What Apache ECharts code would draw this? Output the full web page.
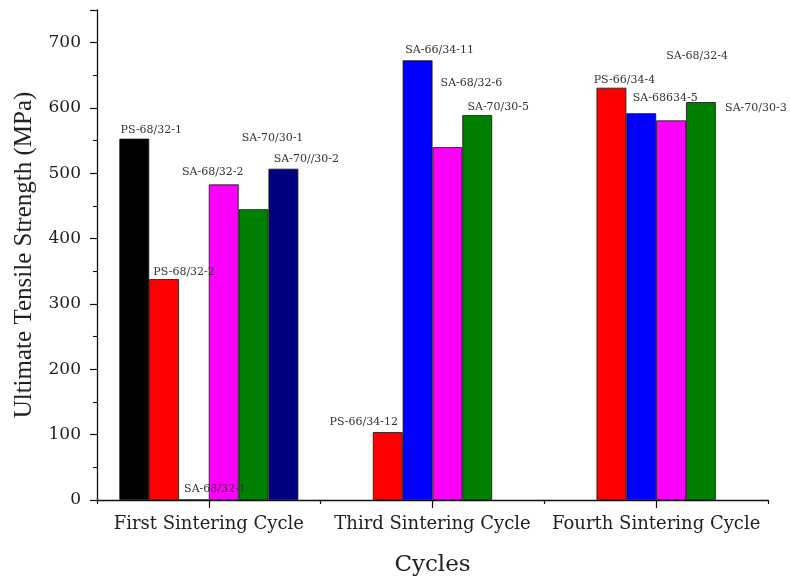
<!DOCTYPE html>
<html>
<head>
<meta charset="utf-8">
<script src="https://cdn.jsdelivr.net/npm/echarts@6/dist/echarts.min.js"></script>
<style>
html,body{margin:0;padding:0;background:#fff;}
#chart{width:790px;height:582px;}
</style>
</head>
<body>
<div id="chart"></div>
<script>
// ---- data ----
const categories = ['First Sintering Cycle', 'Third Sintering Cycle', 'Fourth Sintering Cycle'];
const yTicks = [0, 100, 200, 300, 400, 500, 600, 700];
// one series per bar slot inside a group ('-' = no bar)
const slot0Values = [553, '-', '-'];
const slot1Values = [338, 104, 631];
const slot2Values = [0, 673, 592];
const slot3Values = [483, 540, 581];
const slot4Values = [445, 589, 609];
const slot5Values = [507, '-', '-'];
const slot0Names = ['PS-68/32-1', '', ''];
const slot1Names = ['PS-68/32-2', 'PS-66/34-12', 'PS-66/34-4'];
const slot2Names = ['SA-68/32-1', 'SA-66/34-11', 'SA-68634-5'];
const slot3Names = ['SA-68/32-2', 'SA-68/32-6', 'SA-68/32-4'];
const slot4Names = ['SA-70/30-1', 'SA-70/30-5', 'SA-70/30-3'];
const slot5Names = ['SA-70//30-2', '', ''];

// ---- styles ----
const slotColors = ['#000000', '#ff0000', '#0000ff', '#ff00ff', '#008000', '#000080'];
const labelShift = [
  [[17, 2], [0, 0], [0, 0]],
  [[20, 3], [-24, 1], [13, 3]],
  [[21, 0], [22, 0], [24, -5]],
  [[-11, -2], [24, -54], [26, -54]],
  [[19, -61], [21, 2], [55, 17]],
  [[23, 1], [0, 0], [0, 0]]
];
const slotValues = [slot0Values, slot1Values, slot2Values, slot3Values, slot4Values, slot5Values];
const slotNames = [slot0Names, slot1Names, slot2Names, slot3Names, slot4Names, slot5Names];
const FONT = 'DejaVu Serif';
const TEXT = '#222';

const series = slotValues.map((vals, s) => ({
  type: 'bar',
  xAxisIndex: 0,
  barGap: '0%',
  barCategoryGap: '20%',
  itemStyle: { color: slotColors[s], borderColor: '#111', borderWidth: 0.8 },
  data: vals.map((v, i) => ({
    value: v,
    label: {
      show: v !== '-' && slotNames[s][i] !== '',
      position: 'top',
      distance: 5,
      offset: labelShift[s][i],
      formatter: slotNames[s][i],
      fontFamily: FONT,
      fontSize: 11,
      color: '#333'
    }
  }))
}));

const chart = echarts.init(document.getElementById('chart'), null, { renderer: 'canvas' });
chart.setOption({
  animation: false,
  backgroundColor: '#ffffff',
  grid: { left: 97, right: 22, top: 10, bottom: 81, containLabel: false },
  xAxis: [{
    type: 'category',
    data: categories,
    position: 'bottom',
    axisLine: { show: true, lineStyle: { color: '#111', width: 1.3 } },
    axisTick: { show: true, alignWithLabel: true, length: 8, lineStyle: { color: '#111', width: 1.2 } },
    axisLabel: { interval: 0, fontFamily: FONT, fontSize: 18, color: TEXT, margin: 15 },
    name: 'Cycles',
    nameLocation: 'middle',
    nameGap: 54,
    nameTextStyle: { fontFamily: FONT, fontSize: 23, color: TEXT }
  }, {
    type: 'category',
    data: categories,
    position: 'bottom',
    axisLine: { show: false },
    axisTick: { show: true, length: 4, lineStyle: { color: '#111', width: 1.2 } },
    axisLabel: { show: false },
    splitLine: { show: false }
  }],
  yAxis: {
    type: 'value',
    min: 0,
    max: 750,
    interval: 100,
    axisLine: { show: true, lineStyle: { color: '#111', width: 1.3 } },
    axisTick: { show: true, inside: false, length: 7, lineStyle: { color: '#111', width: 1.2 } },
    minorTick: { show: true, splitNumber: 2, length: 4, lineStyle: { color: '#111', width: 1.1 } },
    splitLine: { show: false },
    axisLabel: {
      fontFamily: FONT, fontSize: 17, color: TEXT, margin: 16, showMaxLabel: false,
      formatter: v => (yTicks.indexOf(v) >= 0 ? String(v) : '')
    },
    name: 'Ultimate Tensile Strength (MPa)',
    nameLocation: 'middle',
    nameGap: 60,
    nameTextStyle: { fontFamily: 'Liberation Serif', fontSize: 25, color: TEXT }
  },
  series: series
});
</script>
</body>
</html>
